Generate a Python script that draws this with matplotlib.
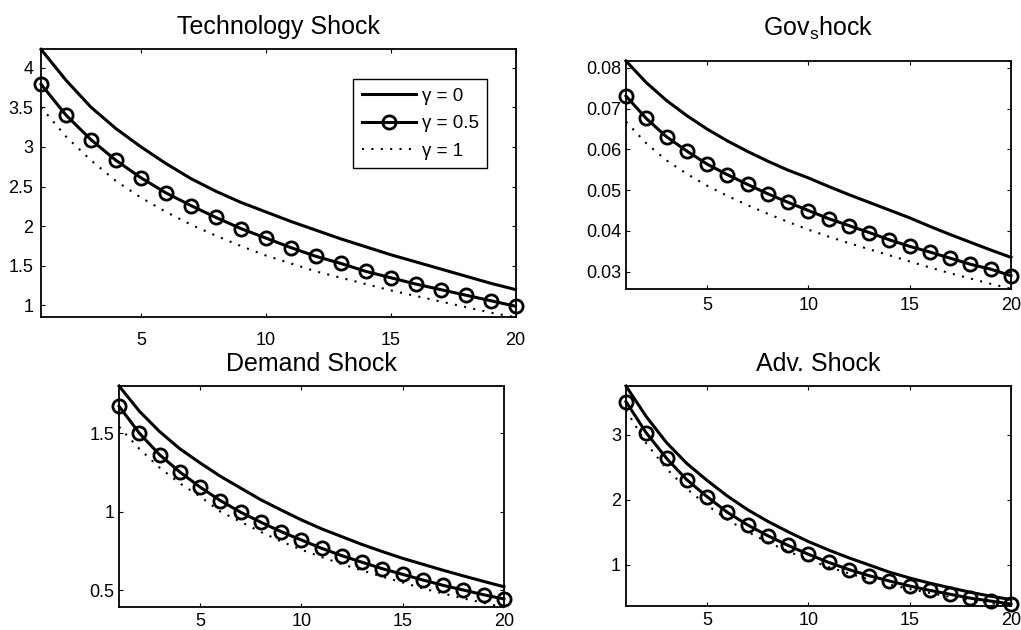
import matplotlib
matplotlib.use("Agg")
import matplotlib.pyplot as plt
from matplotlib.ticker import FuncFormatter

plt.rcParams['font.family'] = ['Liberation Sans', 'DejaVu Sans']
plt.rcParams['mathtext.default'] = 'regular'

# Horizon of the impulse responses
periods = list(range(1, 21))
xticks = [5, 10, 15, 20]
labels = ['γ = 0', 'γ = 0.5', 'γ = 1']

# Technology shock
tech_g0 = [4.23, 3.84, 3.50, 3.23, 3.00, 2.79, 2.60, 2.44, 2.30, 2.18,
           2.06, 1.95, 1.84, 1.74, 1.64, 1.55, 1.46, 1.37, 1.28, 1.20]
tech_g05 = [3.79, 3.40, 3.09, 2.83, 2.61, 2.42, 2.26, 2.11, 1.97, 1.85,
            1.73, 1.62, 1.53, 1.43, 1.35, 1.27, 1.20, 1.13, 1.06, 0.99]
tech_g1 = [3.50, 3.13, 2.83, 2.57, 2.36, 2.18, 2.02, 1.88, 1.75, 1.63,
           1.53, 1.43, 1.35, 1.27, 1.19, 1.12, 1.05, 0.98, 0.91, 0.85]
tech_yticks = [1, 1.5, 2, 2.5, 3, 3.5, 4]

# Government spending shock
gov_g0 = [0.0817, 0.0764, 0.0720, 0.0683, 0.0650, 0.0621, 0.0595, 0.0571, 0.0549, 0.0530,
          0.0509, 0.0489, 0.0470, 0.0451, 0.0432, 0.0411, 0.0391, 0.0372, 0.0353, 0.0335]
gov_g05 = [0.0731, 0.0676, 0.0631, 0.0596, 0.0564, 0.0538, 0.0514, 0.0491, 0.0470, 0.0450,
           0.0430, 0.0413, 0.0396, 0.0378, 0.0362, 0.0348, 0.0333, 0.0318, 0.0306, 0.0290]
gov_g1 = [0.0668, 0.0615, 0.0573, 0.0540, 0.0511, 0.0486, 0.0463, 0.0442, 0.0422, 0.0403,
          0.0386, 0.0370, 0.0355, 0.0340, 0.0325, 0.0310, 0.0296, 0.0283, 0.0270, 0.0258]
gov_yticks = [0.03, 0.04, 0.05, 0.06, 0.07, 0.08]

# Demand shock
dem_g0 = [1.80, 1.64, 1.51, 1.40, 1.31, 1.225, 1.15, 1.075, 1.01, 0.947,
          0.89, 0.84, 0.79, 0.745, 0.702, 0.664, 0.626, 0.590, 0.555, 0.521]
dem_g05 = [1.671, 1.50, 1.362, 1.252, 1.156, 1.070, 0.996, 0.932, 0.872, 0.819,
           0.766, 0.719, 0.677, 0.636, 0.600, 0.564, 0.530, 0.500, 0.470, 0.443]
dem_g1 = [1.54, 1.40, 1.28, 1.18, 1.096, 1.00, 0.935, 0.87, 0.81, 0.757,
          0.71, 0.665, 0.625, 0.585, 0.548, 0.51, 0.478, 0.447, 0.418, 0.39]
dem_yticks = [0.5, 1, 1.5]

# Advertising shock
adv_g0 = [3.75, 3.28, 2.88, 2.56, 2.30, 2.06, 1.85, 1.67, 1.51, 1.36,
          1.23, 1.11, 1.00, 0.89, 0.80, 0.72, 0.65, 0.58, 0.52, 0.47]
adv_g05 = [3.51, 3.03, 2.64, 2.31, 2.05, 1.81, 1.615, 1.45, 1.30, 1.165,
           1.04, 0.93, 0.835, 0.754, 0.677, 0.61, 0.55, 0.49, 0.446, 0.40]
adv_g1 = [3.38, 2.87, 2.48, 2.17, 1.92, 1.70, 1.51, 1.35, 1.21, 1.08,
          0.97, 0.87, 0.78, 0.70, 0.63, 0.57, 0.51, 0.46, 0.41, 0.37]
adv_yticks = [1, 2, 3]


def draw_panel(ax, y0, y05, y1, title, yticks, xpad, ypad, tpad):
    l0, = ax.plot(periods, y0, color='k', lw=2.2, clip_on=False)
    l05, = ax.plot(periods, y05, color='k', lw=2.2, marker='o', ms=9.5,
                   mfc='none', mew=2.0, clip_on=False)
    l1, = ax.plot(periods, y1, color='k', lw=1.5, ls=(0, (1, 3.5)), clip_on=False)

    # tight axis like matlab
    lo = min(min(y0), min(y05), min(y1))
    hi = max(max(y0), max(y05), max(y1))
    ax.set_xlim(periods[0], periods[-1])
    ax.set_ylim(lo, hi)
    ax.set_xticks(xticks)
    ax.set_yticks(yticks)
    ax.yaxis.set_major_formatter(FuncFormatter(lambda v, p: f'{v:g}'))
    ax.tick_params(direction='in', top=True, right=True, length=3, width=0.8,
                   labelsize=13)
    ax.tick_params(axis='x', pad=xpad)
    ax.tick_params(axis='y', pad=ypad)
    for s in ax.spines.values():
        s.set_linewidth(1.3)
    ax.set_title(title, fontsize=18, pad=tpad)
    return [l0, l05, l1]


fig = plt.figure(figsize=(10.21, 6.30), dpi=100)

ax1 = fig.add_axes([0.0402, 0.4963, 0.4647, 0.4254])
ax2 = fig.add_axes([0.6131, 0.5417, 0.3771, 0.3615])
ax3 = fig.add_axes([0.1166, 0.0360, 0.3770, 0.3513])
ax4 = fig.add_axes([0.6131, 0.0381, 0.3771, 0.3492])

handles = draw_panel(ax1, tech_g0, tech_g05, tech_g1, 'Technology Shock', tech_yticks, 10.5, 5.5, 11)
draw_panel(ax2, gov_g0, gov_g05, gov_g1, 'Gov$_s$hock', gov_yticks, 6, 3.5, 18)
draw_panel(ax3, dem_g0, dem_g05, dem_g1, 'Demand Shock', dem_yticks, 4, 3.5, 11)
draw_panel(ax4, adv_g0, adv_g05, adv_g1, 'Adv. Shock', adv_yticks, 4, 3.5, 11)

leg = ax1.legend(handles, labels, loc='upper right', bbox_to_anchor=(0.94, 0.889),
                 fancybox=False, edgecolor='k', framealpha=1, fontsize=13.5,
                 handlelength=2.9, handletextpad=0.3, labelspacing=0.55,
                 borderpad=0.45, borderaxespad=0)
leg.get_frame().set_linewidth(1.0)

fig.savefig('out.png', dpi=100)
